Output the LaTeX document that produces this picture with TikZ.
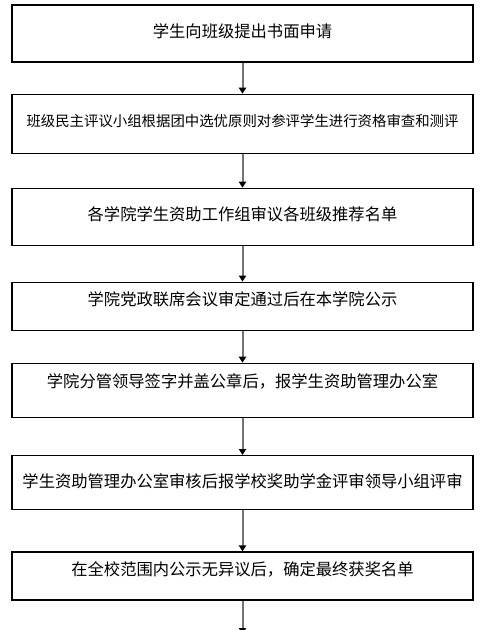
\documentclass[tikz,border=0pt]{standalone}
\usepackage{fontspec}
\setmainfont{Noto Sans CJK SC}
\usetikzlibrary{arrows.meta}
\begin{document}
\begin{tikzpicture}[x=0.5pt, y=-0.5pt, >={Triangle[width=3.6pt,length=3pt,black]},
	stepbox/.style={draw, line width=0.6pt, minimum width=230.5pt, inner sep=0pt, font=\fontsize{8.15}{10}\selectfont, text height=6.5pt, text depth=2.3pt},
	flow/.style={->, draw=black!55, line width=1pt}]
	\clip (0,0) rectangle (485,630);
	\node[stepbox, minimum height=28.5pt] (s1) at (242.5,33.5) {学生向班级提出书面申请};
	\node[stepbox, minimum height=29.5pt, font=\fontsize{7.2}{9}\selectfont, text height=5.8pt, text depth=2.7pt] (s2) at (242.5,123.8) {班级民主评议小组根据团中选优原则对参评学生进行资格审查和测评};
	\node[stepbox, minimum height=28.5pt] (s3) at (242.5,216.8) {各学院学生资助工作组审议各班级推荐名单};
	\node[stepbox, minimum height=24pt, text depth=6.8pt] (s4) at (242.5,306.2) {学院党政联席会议审定通过后在本学院公示};
	\node[stepbox, minimum height=27pt, text depth=9.8pt] (s5) at (242.5,390.3) {学院分管领导签字并盖公章后，报学生资助管理办公室};
	\node[stepbox, minimum height=26.8pt, text depth=1.3pt] (s6) at (242.5,482.4) {学生资助管理办公室审核后报学校奖助学金评审领导小组评审};
	\node[stepbox, minimum height=24pt, text depth=6.8pt] (s7) at (242.5,576) {在全校范围内公示无异议后，确定最终获奖名单};
	\coordinate (end) at (242.5,634);
	\draw[flow] (s1) -- (s2);
	\draw[flow] (s2) -- (s3);
	\draw[flow] (s3) -- (s4);
	\draw[flow] (s4) -- (s5);
	\draw[flow] (s5) -- (s6);
	\draw[flow] (s6) -- (s7);
	\draw[flow] (s7) -- (end);
\end{tikzpicture}
\end{document}
